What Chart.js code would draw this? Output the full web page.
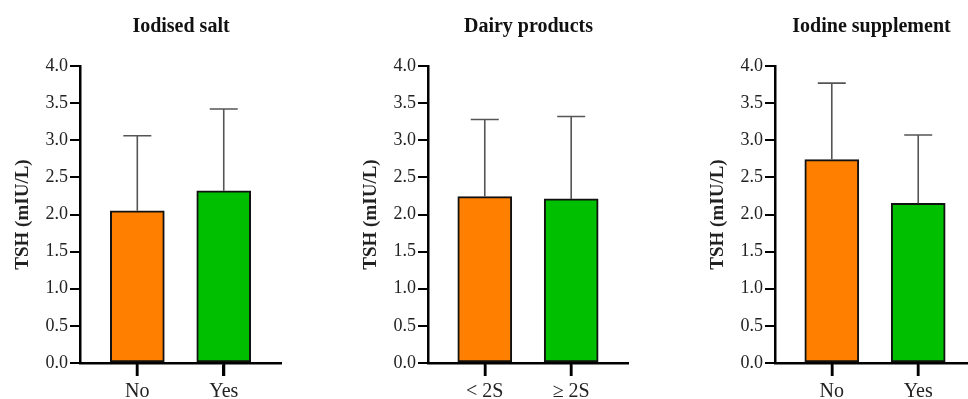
<!DOCTYPE html>
<html>
<head>
<meta charset="utf-8">
<script src="https://cdn.jsdelivr.net/npm/chart.js@4.4.1/dist/chart.umd.min.js"></script>
<style>
  html, body { margin: 0; padding: 0; background: #fff; }
  #wrap { position: relative; width: 968px; height: 399px; overflow: hidden; }
  .panel { position: absolute; top: 0; height: 399px; }
</style>
</head>
<body>
<div id="wrap">
  <div class="panel" style="left:0px;width:282px"><canvas id="c1" width="282" height="399"></canvas></div>
  <div class="panel" style="left:348px;width:281px"><canvas id="c2" width="281" height="399"></canvas></div>
  <div class="panel" style="left:695px;width:273px"><canvas id="c3" width="273" height="399"></canvas></div>
</div>
<script>
// ---- data ----
const titles = ['Iodised salt', 'Dairy products', 'Iodine supplement'];
const categories1 = ['No', 'Yes'];
const means1 = [2.05, 2.32];
const upper1 = [3.06, 3.42];
const categories2 = ['< 2S', '\u2265 2S'];
const means2 = [2.24, 2.21];
const upper2 = [3.28, 3.32];
const categories3 = ['No', 'Yes'];
const means3 = [2.74, 2.15];
const upper3 = [3.77, 3.07];
const yTickValues = [0, 0.5, 1, 1.5, 2, 2.5, 3, 3.5, 4];
const yAxisTitle = 'TSH (mIU/L)';
const barColors = ['#FF7F00', '#00BF00'];

const SERIF = '"Liberation Serif", "DejaVu Serif", serif';

const errorBars = {
  id: 'errorBars',
  afterDatasetsDraw(chart, args, opts) {
    const ctx = chart.ctx;
    const meta = chart.getDatasetMeta(0);
    const ys = chart.scales.y;
    ctx.save();
    ctx.strokeStyle = '#555';
    ctx.lineWidth = 1.6;
    meta.data.forEach((el, i) => {
      const top = ys.getPixelForValue(opts.upper[i]);
      ctx.beginPath();
      ctx.moveTo(el.x, el.y);
      ctx.lineTo(el.x, top);
      ctx.moveTo(el.x - 14, top);
      ctx.lineTo(el.x + 14, top);
      ctx.stroke();
    });
    ctx.restore();
  },
  afterDraw(chart) {
    // category tick marks below the x axis
    const ctx = chart.ctx;
    const xs = chart.scales.x;
    const bottom = chart.chartArea.bottom;
    ctx.save();
    ctx.strokeStyle = '#000';
    ctx.lineWidth = 2.5;
    xs.ticks.forEach(t => {
      const px = Math.round(xs.getPixelForValue(t.value));
      ctx.beginPath();
      ctx.moveTo(px, bottom);
      ctx.lineTo(px, bottom + 13);
      ctx.stroke();
    });
    ctx.restore();
  }
};

function makeChart(id, title, cats, means, upper, xmin, xmax) {
  new Chart(document.getElementById(id), {
    type: 'bar',
    data: {
      datasets: [{
        data: cats.map((c, i) => ({ x: i, y: means[i] })),
        backgroundColor: barColors,
        borderColor: '#111',
        borderWidth: 2,
        borderSkipped: false,
        barThickness: 54
      }]
    },
    plugins: [errorBars],
    options: {
      responsive: false,
      animation: false,
      devicePixelRatio: 1,
      layout: { padding: 0 },
      plugins: {
        legend: { display: false },
        tooltip: { enabled: false },
        title: {
          display: true,
          text: title,
          fullSize: false,
          color: '#111',
          font: { family: SERIF, size: 20, weight: 'bold' },
          padding: { top: 15, bottom: 27 }
        },
        errorBars: { upper: upper }
      },
      scales: {
        x: {
          type: 'linear',
          offset: false,
          min: xmin,
          max: xmax,
          afterFit: s => { s.height = 36; },
          afterBuildTicks: s => { s.ticks = cats.map((c, i) => ({ value: i })); },
          border: { color: '#000', width: 2.5 },
          grid: { offset: false, drawOnChartArea: false, drawTicks: true, tickLength: 13, color: '#000', lineWidth: 2.5 },
          ticks: {
            autoSkip: false,
            maxRotation: 0,
            padding: 4,
            color: '#222',
            font: { family: SERIF, size: 20 },
            callback: v => cats[v] !== undefined ? cats[v] : ''
          }
        },
        y: {
          min: 0,
          max: 4,
          afterFit: s => { s.width = 80; },
          afterBuildTicks: s => { s.ticks = yTickValues.map(v => ({ value: v })); },
          border: { color: '#000', width: 2.5 },
          grid: { drawOnChartArea: false, drawTicks: true, tickLength: 10, color: '#000', lineWidth: 2 },
          ticks: {
            padding: 2,
            color: '#222',
            font: { family: SERIF, size: 18 },
            callback: v => Number(v).toFixed(1)
          },
          title: {
            display: true,
            text: yAxisTitle,
            color: '#222',
            font: { family: SERIF, size: 19, weight: 'bold' },
            padding: { top: 12, bottom: 0 }
          }
        }
      }
    }
  });
}

makeChart('c1', titles[0], categories1, means1, upper1, -0.663, 1.674);
makeChart('c2', titles[1], categories2, means2, upper2, -0.657, 1.669);
makeChart('c3', titles[2], categories3, means3, upper3, -0.657, 1.576);
</script>
</body>
</html>
